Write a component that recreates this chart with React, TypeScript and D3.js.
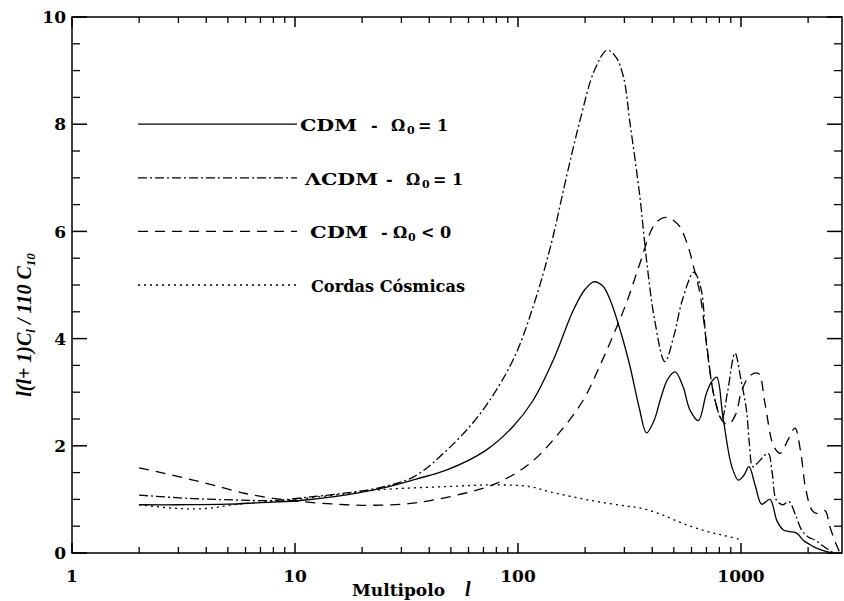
import React from 'react';
import * as d3 from 'd3';

// multipole l and l(l+1)C_l / 110 C_10
const cdmL = [2, 3, 5, 7, 10, 15, 24, 35, 48, 72, 95, 117, 144, 177, 200, 219, 240, 259, 290, 318, 350, 377, 410, 434, 470, 507, 550, 590, 644, 700, 740, 778, 830, 910, 973, 1030, 1086, 1160, 1239, 1349, 1450, 1549, 1650, 1778, 1900, 2050, 2183, 2400, 2600];
const cdmV = [0.9, 0.9, 0.91, 0.94, 0.97, 1.05, 1.2, 1.38, 1.55, 1.92, 2.36, 2.85, 3.6, 4.53, 4.92, 5.06, 4.98, 4.72, 4.1, 3.48, 2.7, 2.24, 2.5, 2.85, 3.25, 3.38, 3.1, 2.67, 2.47, 2.98, 3.2, 3.28, 2.54, 1.61, 1.36, 1.45, 1.61, 1.25, 0.91, 1.0, 0.6, 0.43, 0.4, 0.37, 0.24, 0.15, 0.09, 0.03, 0];

const lcdmL = [2, 3.3, 5.3, 8, 12, 17, 24, 34, 48, 68, 95, 117, 140, 165, 190, 220, 251, 275, 297, 318, 352, 377, 410, 456, 500, 546, 615, 660, 700, 760, 820, 870, 940, 1000, 1058, 1090, 1130, 1200, 1260, 1325, 1380, 1440, 1540, 1640, 1760, 1870, 2000, 2150, 2300, 2450, 2600];
const lcdmV = [1.08, 1.02, 0.99, 0.98, 1.05, 1.12, 1.22, 1.42, 1.92, 2.61, 3.6, 4.6, 5.72, 7.02, 8.08, 9.0, 9.38, 9.25, 8.89, 8.02, 6.65, 5.47, 4.35, 3.57, 4.05, 4.72, 5.24, 4.95, 3.9, 2.9, 2.5, 3.0, 3.73, 3.23, 2.67, 2.05, 1.61, 1.7, 1.8, 1.86, 1.5, 0.99, 0.9, 0.96, 0.7, 0.43, 0.3, 0.24, 0.15, 0.07, 0];

const openL = [2, 2.57, 4, 6, 8, 10, 13, 17, 22, 34, 57, 80, 113, 148, 196, 232, 266, 306, 352, 404, 440, 469, 500, 532, 580, 613, 654, 701, 760, 830, 880, 950, 1000, 1090, 1197, 1280, 1400, 1500, 1620, 1746, 1850, 1950, 2080, 2180, 2380, 2500, 2650, 2780];
const openV = [1.59, 1.49, 1.3, 1.11, 1.02, 0.97, 0.93, 0.9, 0.89, 0.93, 1.11, 1.3, 1.67, 2.17, 2.85, 3.48, 4.04, 4.66, 5.4, 6.09, 6.24, 6.26, 6.2, 6.09, 5.71, 5.34, 4.85, 3.91, 2.9, 2.45, 2.4, 2.6, 2.98, 3.3, 3.35, 2.8, 2.0, 1.86, 2.1, 2.33, 1.9, 1.2, 0.8, 0.74, 0.79, 0.5, 0.2, 0];

const strL = [2, 3, 4, 5.3, 7.5, 10, 15, 24, 48, 77, 113, 139, 190, 234, 300, 364, 450, 550, 680, 830, 1000];
const strV = [0.9, 0.83, 0.83, 0.9, 0.96, 1.0, 1.08, 1.18, 1.24, 1.27, 1.24, 1.14, 1.02, 0.95, 0.88, 0.83, 0.7, 0.55, 0.42, 0.33, 0.25];

const yMajor = [0, 2, 4, 6, 8, 10];
const xMajor = [1, 10, 100, 1000];

const FONT = '"DejaVu Serif", serif';

const App: React.FC = () => {
  const left = 72, right = 842, top = 17, bottom = 553;
  const x = d3.scaleLog().domain([1, 2838]).range([left, right]);
  const y = d3.scaleLinear().domain([0, 10]).range([bottom, top]);

  const line = d3.line<[number, number]>()
    .x(d => x(d[0]))
    .y(d => y(d[1]))
    .curve(d3.curveCatmullRom.alpha(0.5));

  const series = [
    { L: cdmL, V: cdmV, dash: 'none' },
    { L: lcdmL, V: lcdmV, dash: '9,3,2,3' },
    { L: openL, V: openV, dash: '10,7' },
    { L: strL, V: strV, dash: '2,4' },
  ];

  const yMinor = d3.range(0, 10.01, 0.5).filter(v => !yMajor.includes(v));
  const xMinor = x.ticks(40).filter(v => !xMajor.includes(v) && v < 2838);

  const legendY = [8, 7, 6, 5].map(v => y(v));

  return (
    <div style={{ position: 'absolute', left: 0, top: 0, background: '#fff' }}>
      <svg width={844} height={601} style={{ display: 'block', background: '#fff' }}>
        {/* frame */}
        <rect x={left} y={top} width={right - left} height={bottom - top} fill="none" stroke="#000" strokeWidth={1.5} />

        {/* y ticks, both sides */}
        {yMajor.map(v => (
          <g key={'ym' + v}>
            <line x1={left} x2={left + 15} y1={y(v)} y2={y(v)} stroke="#000" strokeWidth={1.5} />
            <line x1={right} x2={right - 15} y1={y(v)} y2={y(v)} stroke="#000" strokeWidth={1.5} />
            <text x={66} y={y(v)} dy="0.36em" textAnchor="end" fontFamily={FONT} fontWeight="bold" fontSize={17}>{v}</text>
          </g>
        ))}
        {yMinor.map(v => (
          <g key={'yn' + v}>
            <line x1={left} x2={left + 8} y1={y(v)} y2={y(v)} stroke="#000" strokeWidth={1.3} />
            <line x1={right} x2={right - 8} y1={y(v)} y2={y(v)} stroke="#000" strokeWidth={1.3} />
          </g>
        ))}

        {/* x ticks, bottom and top */}
        {xMajor.map(v => (
          <g key={'xm' + v}>
            <line x1={x(v)} x2={x(v)} y1={bottom} y2={bottom - 10} stroke="#000" strokeWidth={1.5} />
            <line x1={x(v)} x2={x(v)} y1={top} y2={top + 10} stroke="#000" strokeWidth={1.5} />
            <text x={x(v)} y={582} textAnchor="middle" fontFamily={FONT} fontWeight="bold" fontSize={17}>{v}</text>
          </g>
        ))}
        {xMinor.map(v => (
          <g key={'xn' + v}>
            <line x1={x(v)} x2={x(v)} y1={bottom} y2={bottom - 6} stroke="#000" strokeWidth={1.3} />
            <line x1={x(v)} x2={x(v)} y1={top} y2={top + 6} stroke="#000" strokeWidth={1.3} />
          </g>
        ))}

        {/* curves */}
        {series.map((s, i) => (
          <path key={'s' + i}
            d={line(s.L.map((l, j) => [l, Math.max(0, s.V[j])] as [number, number])) || ''}
            fill="none" stroke="#000" strokeWidth={1.3}
            strokeDasharray={s.dash === 'none' ? undefined : s.dash} />
        ))}

        {/* legend */}
        {series.map((s, i) => (
          <line key={'lg' + i} x1={138} x2={297} y1={legendY[i]} y2={legendY[i]}
            stroke="#000" strokeWidth={1.3}
            strokeDasharray={s.dash === 'none' ? undefined : s.dash} />
        ))}
        <g fontFamily={FONT} fontWeight="bold" fontSize={16}>
          <text x={300} y={legendY[0] + 7} textLength={57} lengthAdjust="spacingAndGlyphs">CDM</text>
          <text x={371} y={legendY[0] + 7}>-</text>
          <text x={391} y={legendY[0] + 7}>Ω</text>
          <text x={407} y={legendY[0] + 10} fontSize={11}>0</text>
          <text x={418} y={legendY[0] + 7}>= 1</text>

          <text x={305} y={legendY[1] + 7} textLength={73} lengthAdjust="spacingAndGlyphs">ΛCDM</text>
          <text x={386} y={legendY[1] + 7}>-</text>
          <text x={406} y={legendY[1] + 7}>Ω</text>
          <text x={422} y={legendY[1] + 10} fontSize={11}>0</text>
          <text x={433} y={legendY[1] + 7}>= 1</text>

          <text x={310} y={legendY[2] + 7} textLength={58} lengthAdjust="spacingAndGlyphs">CDM</text>
          <text x={381} y={legendY[2] + 7}>-</text>
          <text x={393} y={legendY[2] + 7}>Ω</text>
          <text x={408} y={legendY[2] + 10} fontSize={11}>0</text>
          <text x={421} y={legendY[2] + 7}>&lt; 0</text>

          <text x={311} y={legendY[3] + 7} textLength={154} lengthAdjust="spacingAndGlyphs">Cordas Cósmicas</text>
        </g>

        {/* axis titles */}
        <text x={352} y={596} fontFamily={FONT} fontWeight="bold" fontSize={17}>Multipolo</text>
        <text x={465} y={596} fontFamily='"Liberation Serif", serif' fontWeight="bold" fontStyle="italic" fontSize={20}>l</text>

        <text transform="translate(31,325) rotate(-90)" textAnchor="middle"
          fontFamily='"Liberation Serif", serif' fontWeight="bold" fontStyle="italic" fontSize={20}>
          l(l+ 1)C<tspan fontSize={13} dy={4}>l</tspan><tspan dy={-4}> / 110 C</tspan><tspan fontSize={13} dy={4}>10</tspan>
        </text>
      </svg>
    </div>
  );
};

export default App;
